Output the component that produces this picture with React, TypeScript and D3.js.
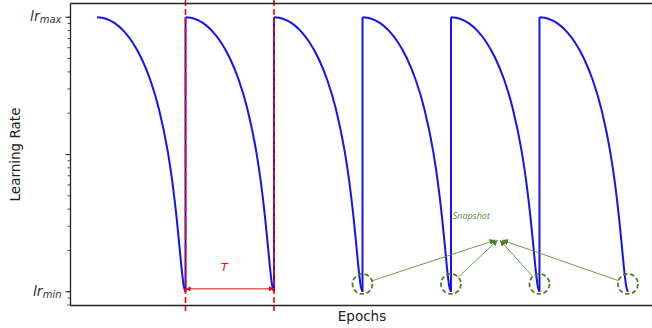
import React, { useEffect } from "react";
import * as d3 from "d3";

const W = 652;
const H = 328;

// schedule
const lrMax = 0.1;
const lrMin = 0.001;
const cycleLength = 50;
const cycleStarts = [0, 50, 100, 150, 200, 250];
const cyclePhase = [0, 0.1, 0.2, 0.3, 0.4, 0.5, 0.6, 0.7, 0.8, 0.85, 0.9, 0.93, 0.96, 0.98, 1];
const cycleLr = [0.1, 0.0976, 0.0906, 0.0796, 0.0658, 0.0505, 0.0352, 0.0214, 0.01046, 0.0064, 0.00342, 0.00219, 0.00139, 0.0011, 0.001];

// annotations
const periodMarks = [50, 100];
const snapshotEpochs = [150, 200, 250, 300];
const snapshotLr = 0.00114;
const snapshotTarget = { epoch: 227, lr: 0.00238 };
const snapshotLabel = { epoch: 201, lr: 0.0034, text: "Snapshot" };
const periodLabel = { epoch: 72, lr: 0.00142, text: "T" };
const periodArrowLr = 0.00105;

const yTickLabels = [
  { value: lrMax, sub: "max" },
  { value: lrMin, sub: "min" },
];

const App = () => {
  useEffect(() => {
    document.body.style.margin = "0";
  }, []);

  const x = d3.scaleLinear().domain([-15, 315]).range([70.5, 654.5]);
  const y = d3
    .scaleLog()
    .domain([lrMin * Math.pow(10, -0.1), lrMax * Math.pow(10, 0.1)])
    .range([305.5, 3.5]);

  const line = d3
    .line<[number, number]>()
    .x((d) => x(d[0]))
    .y((d) => y(d[1]))
    .curve(d3.curveMonotoneX);

  const cycles = cycleStarts.map((s) =>
    cyclePhase.map((p, i) => [s + p * cycleLength, cycleLr[i]] as [number, number])
  );

  const [yTop, yBot] = y.range().slice().reverse();
  const xLeft = x.range()[0];

  // minor log ticks
  const minorTicks: number[] = [];
  [0.0001, 0.001, 0.01, 0.1].forEach((dec) => {
    for (let k = 1; k < 10; k++) {
      const v = dec * k;
      if (v >= y.domain()[0] && v <= y.domain()[1]) minorTicks.push(v);
    }
  });
  const majorTicks = [0.001, 0.01, 0.1];

  const green = "#4d7d2a";
  const tx = x(snapshotTarget.epoch);
  const ty = y(snapshotTarget.lr);
  const r = 10;

  return (
    <svg width={W} height={H} style={{ display: "block", background: "#fff" }}>
      <defs>
        <marker id="gArrow" viewBox="0 0 10 10" refX="10" refY="5" markerWidth="6" markerHeight="6" markerUnits="userSpaceOnUse" orient="auto">
          <path d="M0,0 L10,5 L0,10 z" fill={green} />
        </marker>
        <marker id="rArrow" viewBox="0 0 10 10" refX="10" refY="5" markerWidth="5" markerHeight="5" markerUnits="userSpaceOnUse" orient="auto-start-reverse">
          <path d="M0,0 L10,5 L0,10 z" fill="red" />
        </marker>
      </defs>

      {/* curves */}
      {cycles.map((c, i) => (
        <path key={i} d={line(c) ?? ""} fill="none" stroke="#1414f0" strokeWidth={2} />
      ))}
      {cycleStarts.slice(1).map((s) => (
        <line key={s} x1={x(s)} x2={x(s)} y1={y(lrMin)} y2={y(lrMax)} stroke="#1414f0" strokeWidth={2} />
      ))}

      {/* period marks */}
      {periodMarks.map((e) => (
        <line key={e} x1={x(e)} x2={x(e)} y1={0} y2={311} stroke="red" strokeWidth={1.6} strokeDasharray="6,3" />
      ))}
      <line
        x1={x(periodMarks[0])}
        x2={x(periodMarks[1])}
        y1={y(periodArrowLr)}
        y2={y(periodArrowLr)}
        stroke="red"
        strokeWidth={1}
        markerStart="url(#rArrow)"
        markerEnd="url(#rArrow)"
      />
      <text x={x(periodLabel.epoch)} y={y(periodLabel.lr)} fill="red" fontFamily="DejaVu Sans" fontStyle="italic" fontSize={11} textAnchor="middle">
        {periodLabel.text}
      </text>

      {/* snapshots */}
      {snapshotEpochs.map((e, i) => {
        const cx = x(e);
        const cy = y(snapshotLr);
        const ex = tx + (i - 1.5) * 2.2;
        const dx = ex - cx;
        const dy = ty - cy;
        const len = Math.hypot(dx, dy);
        return (
          <g key={e}>
            <circle cx={cx} cy={cy} r={r} fill="none" stroke={green} strokeWidth={1.8} strokeDasharray="4.5,2.5" />
            <line x1={cx + (dx / len) * r} y1={cy + (dy / len) * r} x2={ex} y2={ty} stroke="#5e8f3c" strokeWidth={0.9} markerEnd="url(#gArrow)" />
          </g>
        );
      })}
      <text x={x(snapshotLabel.epoch)} y={y(snapshotLabel.lr)} fill="#5a8a35" fontFamily="Open Sans" fontStyle="italic" fontSize={9}>
        {snapshotLabel.text}
      </text>

      {/* spines */}
      <line x1={xLeft} x2={W} y1={yTop} y2={yTop} stroke="#222" strokeWidth={1.3} />
      <line x1={xLeft} x2={W} y1={yBot} y2={yBot} stroke="#222" strokeWidth={1.3} />
      <line x1={xLeft} x2={xLeft} y1={yTop} y2={yBot} stroke="#222" strokeWidth={1.3} />

      {/* y ticks */}
      {minorTicks.map((v) => (
        <line key={"m" + v} x1={xLeft - 3} x2={xLeft} y1={y(v)} y2={y(v)} stroke="#222" strokeWidth={0.8} />
      ))}
      {majorTicks.map((v) => (
        <line key={"M" + v} x1={xLeft - 5} x2={xLeft} y1={y(v)} y2={y(v)} stroke="#222" strokeWidth={1} />
      ))}
      {yTickLabels.map((t) => (
        <text key={t.sub} x={xLeft - 9} y={y(t.value) + 4} textAnchor="end" fill="#333" fontFamily="DejaVu Sans" fontStyle="italic">
          <tspan fontSize={14}>lr</tspan>
          <tspan fontSize={10} dy={2}>{t.sub}</tspan>
        </text>
      ))}

      {/* axis titles */}
      <text x={362} y={321} textAnchor="middle" fontFamily="DejaVu Sans" fontSize={13.5} fill="#222">
        Epochs
      </text>
      <text transform={`translate(20,${(yTop + yBot) / 2}) rotate(-90)`} textAnchor="middle" fontFamily="DejaVu Sans" fontSize={13.5} fill="#222">
        Learning Rate
      </text>
    </svg>
  );
};

export default App;
